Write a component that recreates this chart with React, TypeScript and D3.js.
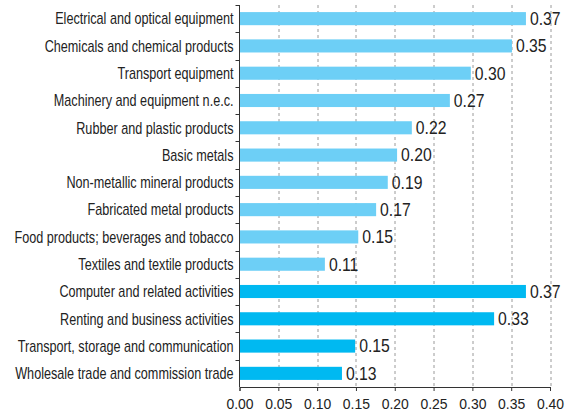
import { useRef, useEffect } from 'react';
import * as d3 from 'd3';

// Industry categories, top to bottom
const categories = [
  'Electrical and optical equipment',
  'Chemicals and chemical products',
  'Transport equipment',
  'Machinery and equipment n.e.c.',
  'Rubber and plastic products',
  'Basic metals',
  'Non-metallic mineral products',
  'Fabricated metal products',
  'Food products; beverages and tobacco',
  'Textiles and textile products',
  'Computer and related activities',
  'Renting and business activities',
  'Transport, storage and communication',
  'Wholesale trade and commission trade',
];

const values = [0.369, 0.351, 0.298, 0.271, 0.222, 0.203, 0.191, 0.176, 0.153, 0.11, 0.369, 0.328, 0.149, 0.132];
const valueLabels = ['0.37', '0.35', '0.30', '0.27', '0.22', '0.20', '0.19', '0.17', '0.15', '0.11', '0.37', '0.33', '0.15', '0.13'];
// manufacturing vs services
const groups = ['m', 'm', 'm', 'm', 'm', 'm', 'm', 'm', 'm', 'm', 's', 's', 's', 's'];
const xTicks = [0, 0.05, 0.1, 0.15, 0.2, 0.25, 0.3, 0.35, 0.4];

const WIDTH = 576;
const HEIGHT = 416;
const FONT = '"Liberation Sans", Arial, sans-serif';

export default function App() {
  const svgRef = useRef<SVGSVGElement>(null);

  useEffect(() => {
    if (!svgRef.current) return;
    const svg = d3.select(svgRef.current);
    svg.selectAll('*').remove();

    const margin = { top: 5, right: 26, bottom: 29, left: 239.5 };
    const w = WIDTH - margin.left - margin.right;
    const h = HEIGHT - margin.top - margin.bottom;

    const x = d3.scaleLinear().domain([0, 0.4]).range([0, w]);
    const y = d3.scaleBand<string>().domain(categories).range([0, h]).paddingInner(0.52).paddingOuter(0.26);
    const yTicks = d3.scaleBand<string>().domain(categories).range([0, h]);

    const g = svg.append('g').attr('transform', `translate(${margin.left},${margin.top})`);

    // dashed vertical grid
    g.selectAll('line.grid')
      .data(xTicks.slice(1))
      .enter()
      .append('line')
      .attr('x1', (d) => Math.round(x(d)) + 0.5)
      .attr('x2', (d) => Math.round(x(d)) + 0.5)
      .attr('y1', 0)
      .attr('y2', h)
      .attr('stroke', '#9a9a9a')
      .attr('stroke-width', 1)
      .attr('stroke-dasharray', '3,3');

    // bars
    g.selectAll('rect.bar')
      .data(categories)
      .enter()
      .append('rect')
      .attr('x', 0)
      .attr('y', (d) => y(d)!)
      .attr('width', (_d, i) => x(values[i]))
      .attr('height', y.bandwidth())
      .attr('fill', (_d, i) => (groups[i] === 'm' ? '#6dcff6' : '#00b9f1'));

    // value labels (slightly condensed like the original)
    g.selectAll('g.val')
      .data(categories)
      .enter()
      .append('g')
      .attr('transform', (d, i) => `translate(${x(values[i]) + 4},${y(d)! + y.bandwidth() / 2})`)
      .append('text')
      .attr('transform', 'scale(0.9,1)')
      .attr('dy', '0.36em')
      .attr('font-family', FONT)
      .attr('font-size', '17.5px')
      .attr('fill', '#222')
      .text((_d, i) => valueLabels[i]);

    // left axis: line + ticks at band edges
    const la = g.append('g');
    la.append('line')
      .attr('x1', 0).attr('x2', 0).attr('y1', 0).attr('y2', h)
      .attr('stroke', '#333');
    la.selectAll('line.tk')
      .data(categories)
      .enter()
      .append('line')
      .attr('x1', -4).attr('x2', 0)
      .attr('y1', (d) => Math.round(yTicks(d)!) + 0.5)
      .attr('y2', (d) => Math.round(yTicks(d)!) + 0.5)
      .attr('stroke', '#333');
    la.selectAll('g.cat')
      .data(categories)
      .enter()
      .append('g')
      .attr('transform', (d) => `translate(-6,${yTicks(d)! + yTicks.bandwidth() / 2})`)
      .append('text')
      .attr('transform', 'scale(0.79,1)')
      .attr('dy', '0.36em')
      .attr('text-anchor', 'end')
      .attr('font-family', FONT)
      .attr('font-size', '16px')
      .attr('fill', '#222')
      .text((d) => d);

    // bottom axis
    const bx = g.append('g')
      .attr('transform', `translate(0,${h})`)
      .call(
        d3.axisBottom(x)
          .tickValues(xTicks)
          .tickSize(4)
          .tickFormat((d) => (d as number).toFixed(2))
      );
    bx.selectAll('.domain').attr('stroke', '#333');
    bx.selectAll('.tick line').attr('stroke', '#333');
    bx.selectAll('.tick text')
      .attr('font-size', '15.5px')
      .attr('font-family', FONT)
      .attr('fill', '#222')
      .attr('dy', '0.95em')
      .attr('transform', 'scale(0.9,1)');
  }, []);

  return (
    <svg
      ref={svgRef}
      width={WIDTH}
      height={HEIGHT}
      style={{ position: 'absolute', left: 0, top: 0, background: '#fff' }}
    />
  );
}
